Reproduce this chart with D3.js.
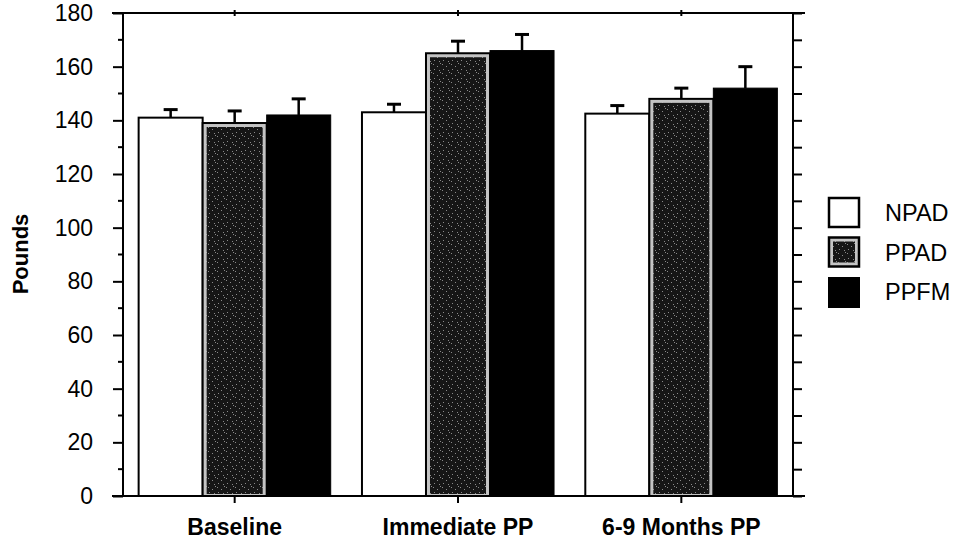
<!DOCTYPE html>
<html>
<head>
<meta charset="utf-8">
<script src="https://cdn.jsdelivr.net/npm/d3@7"></script>
<style>
  html, body { margin: 0; padding: 0; background: #fff; }
  svg { display: block; font-family: "Liberation Sans", Arial, sans-serif; }
</style>
</head>
<body>
<svg id="chart" width="954" height="548"></svg>
<script>
// ---- data ----
const categories = ["Baseline", "Immediate PP", "6-9 Months PP"];
const seriesNames = ["NPAD", "PPAD", "PPFM"];
const npad = [141, 143, 142.5];
const ppad = [139, 165, 148];
const ppfm = [142, 166, 152];
const npadErr = [3, 3, 3];
const ppadErr = [4.5, 4.5, 4];
const ppfmErr = [6, 6, 8];
const yTicks = [0, 20, 40, 60, 80, 100, 120, 140, 160, 180];

(function () {
const values = [npad, ppad, ppfm];
const errors = [npadErr, ppadErr, ppfmErr];

const svg = d3.select("#chart");
const L = 123, R = 793, T = 13, B = 496;

const x = d3.scaleBand().domain(categories).range([L, R])
  .paddingInner(0.14).paddingOuter(0.07);
const xs = d3.scaleBand().domain(seriesNames).range([0, x.bandwidth()]).padding(0);
const y = d3.scaleLinear().domain([0, 180]).range([B, T]);

// stipple pattern for PPAD
const defs = svg.append("defs");
const pat = defs.append("pattern").attr("id", "stip").attr("patternUnits", "userSpaceOnUse")
  .attr("width", 9).attr("height", 9);
pat.append("rect").attr("width", 9).attr("height", 9).attr("fill", "#161616");
[[1,1],[5,3],[2,6],[7,7],[8,0]].forEach(([a,b]) =>
  pat.append("rect").attr("x", a).attr("y", b).attr("width", 1).attr("height", 1).attr("fill", "#8a8a8a"));

function drawBar(g, s, x0, w, v) {
  const y0 = y(v), h = y(0) - y(v);
  if (s === 0) {
    g.append("rect").attr("x", x0).attr("y", y0).attr("width", w).attr("height", h)
      .attr("fill", "#fff").attr("stroke", "#000").attr("stroke-width", 2);
  } else if (s === 1) {
    g.append("rect").attr("x", x0).attr("y", y0).attr("width", w).attr("height", h)
      .attr("fill", "#c4c4c4").attr("stroke", "#000").attr("stroke-width", 2);
    g.append("rect").attr("x", x0 + 4).attr("y", y0 + 4).attr("width", w - 8).attr("height", h - 6)
      .attr("fill", "url(#stip)");
  } else {
    g.append("rect").attr("x", x0).attr("y", y0).attr("width", w).attr("height", h)
      .attr("fill", "#000").attr("stroke", "#000").attr("stroke-width", 1);
  }
}

// bars + error bars
categories.forEach((c, ci) => {
  seriesNames.forEach((sn, si) => {
    const x0 = x(c) + xs(sn), w = xs.bandwidth();
    const v = values[si][ci], e = errors[si][ci];
    const g = svg.append("g");
    drawBar(g, si, x0, w, v);
    const cx = x0 + w / 2;
    g.append("line").attr("x1", cx).attr("x2", cx).attr("y1", y(v)).attr("y2", y(v + e))
      .attr("stroke", "#000").attr("stroke-width", 2.5);
    g.append("line").attr("x1", cx - 7).attr("x2", cx + 7).attr("y1", y(v + e)).attr("y2", y(v + e))
      .attr("stroke", "#000").attr("stroke-width", 3);
  });
});

// frame lines
const ax = svg.append("g").attr("stroke", "#000").attr("stroke-width", 2);
ax.append("line").attr("x1", 112).attr("x2", 805).attr("y1", T).attr("y2", T);
ax.append("line").attr("x1", 112).attr("x2", 805).attr("y1", B).attr("y2", B);
ax.append("line").attr("x1", L).attr("x2", L).attr("y1", T).attr("y2", B);
ax.append("line").attr("x1", R).attr("x2", R).attr("y1", T).attr("y2", B);

// left axis: major ticks with labels
const yAxis = d3.axisLeft(y).tickValues(yTicks).tickSize(10).tickPadding(20).tickFormat(d3.format("d"));
const gy = svg.append("g").attr("transform", `translate(${L},0)`).call(yAxis);
gy.select(".domain").remove();
gy.selectAll(".tick line").attr("stroke-width", 2);
gy.selectAll(".tick text").attr("font-size", 23).attr("fill", "#000");

// left minor ticks
const minor = d3.range(10, 180, 20);
svg.append("g").selectAll("line").data(minor).join("line")
  .attr("x1", L - 5).attr("x2", L).attr("y1", d => y(d)).attr("y2", d => y(d))
  .attr("stroke", "#000").attr("stroke-width", 2);

// right axis ticks every 10
const yr = d3.axisRight(y).tickValues(d3.range(0, 181, 10)).tickSize(9).tickFormat("");
const gr = svg.append("g").attr("transform", `translate(${R},0)`).call(yr);
gr.select(".domain").remove();
gr.selectAll(".tick line").attr("stroke-width", 2);

// bottom axis
const xAxis = d3.axisBottom(x).tickSize(7).tickPadding(16);
const gx = svg.append("g").attr("transform", `translate(0,${B})`).call(xAxis);
gx.select(".domain").remove();
gx.selectAll(".tick line").attr("stroke-width", 2);
gx.selectAll(".tick text").attr("font-size", 23).attr("font-weight", "bold").attr("fill", "#000");

// top small ticks
svg.append("g").selectAll("line").data(categories).join("line")
  .attr("x1", d => x(d) + x.bandwidth() / 2).attr("x2", d => x(d) + x.bandwidth() / 2)
  .attr("y1", T - 3).attr("y2", T + 3).attr("stroke", "#000").attr("stroke-width", 2);

// y title
svg.append("text").attr("transform", "translate(28,254) rotate(-90)")
  .attr("text-anchor", "middle").attr("font-size", 22).attr("font-weight", "bold").text("Pounds");

// legend
const lg = svg.append("g");
seriesNames.forEach((sn, i) => {
  const ly = 198 + i * 39.5;
  const g = lg.append("g");
  if (i === 0) {
    g.append("rect").attr("x", 829).attr("y", ly).attr("width", 30).attr("height", 29)
      .attr("fill", "#fff").attr("stroke", "#000").attr("stroke-width", 2.5);
  } else if (i === 1) {
    g.append("rect").attr("x", 829).attr("y", ly).attr("width", 30).attr("height", 29)
      .attr("fill", "#c4c4c4").attr("stroke", "#000").attr("stroke-width", 2.5);
    g.append("rect").attr("x", 833).attr("y", ly + 4).attr("width", 22).attr("height", 21)
      .attr("fill", "url(#stip)");
  } else {
    g.append("rect").attr("x", 828).attr("y", ly).attr("width", 32).attr("height", 31).attr("fill", "#000");
  }
  g.append("text").attr("x", 885).attr("y", ly + 15).attr("dy", "0.36em")
    .attr("font-size", 23.5).attr("fill", "#000").text(sn);
});
})();
</script>
</body>
</html>
